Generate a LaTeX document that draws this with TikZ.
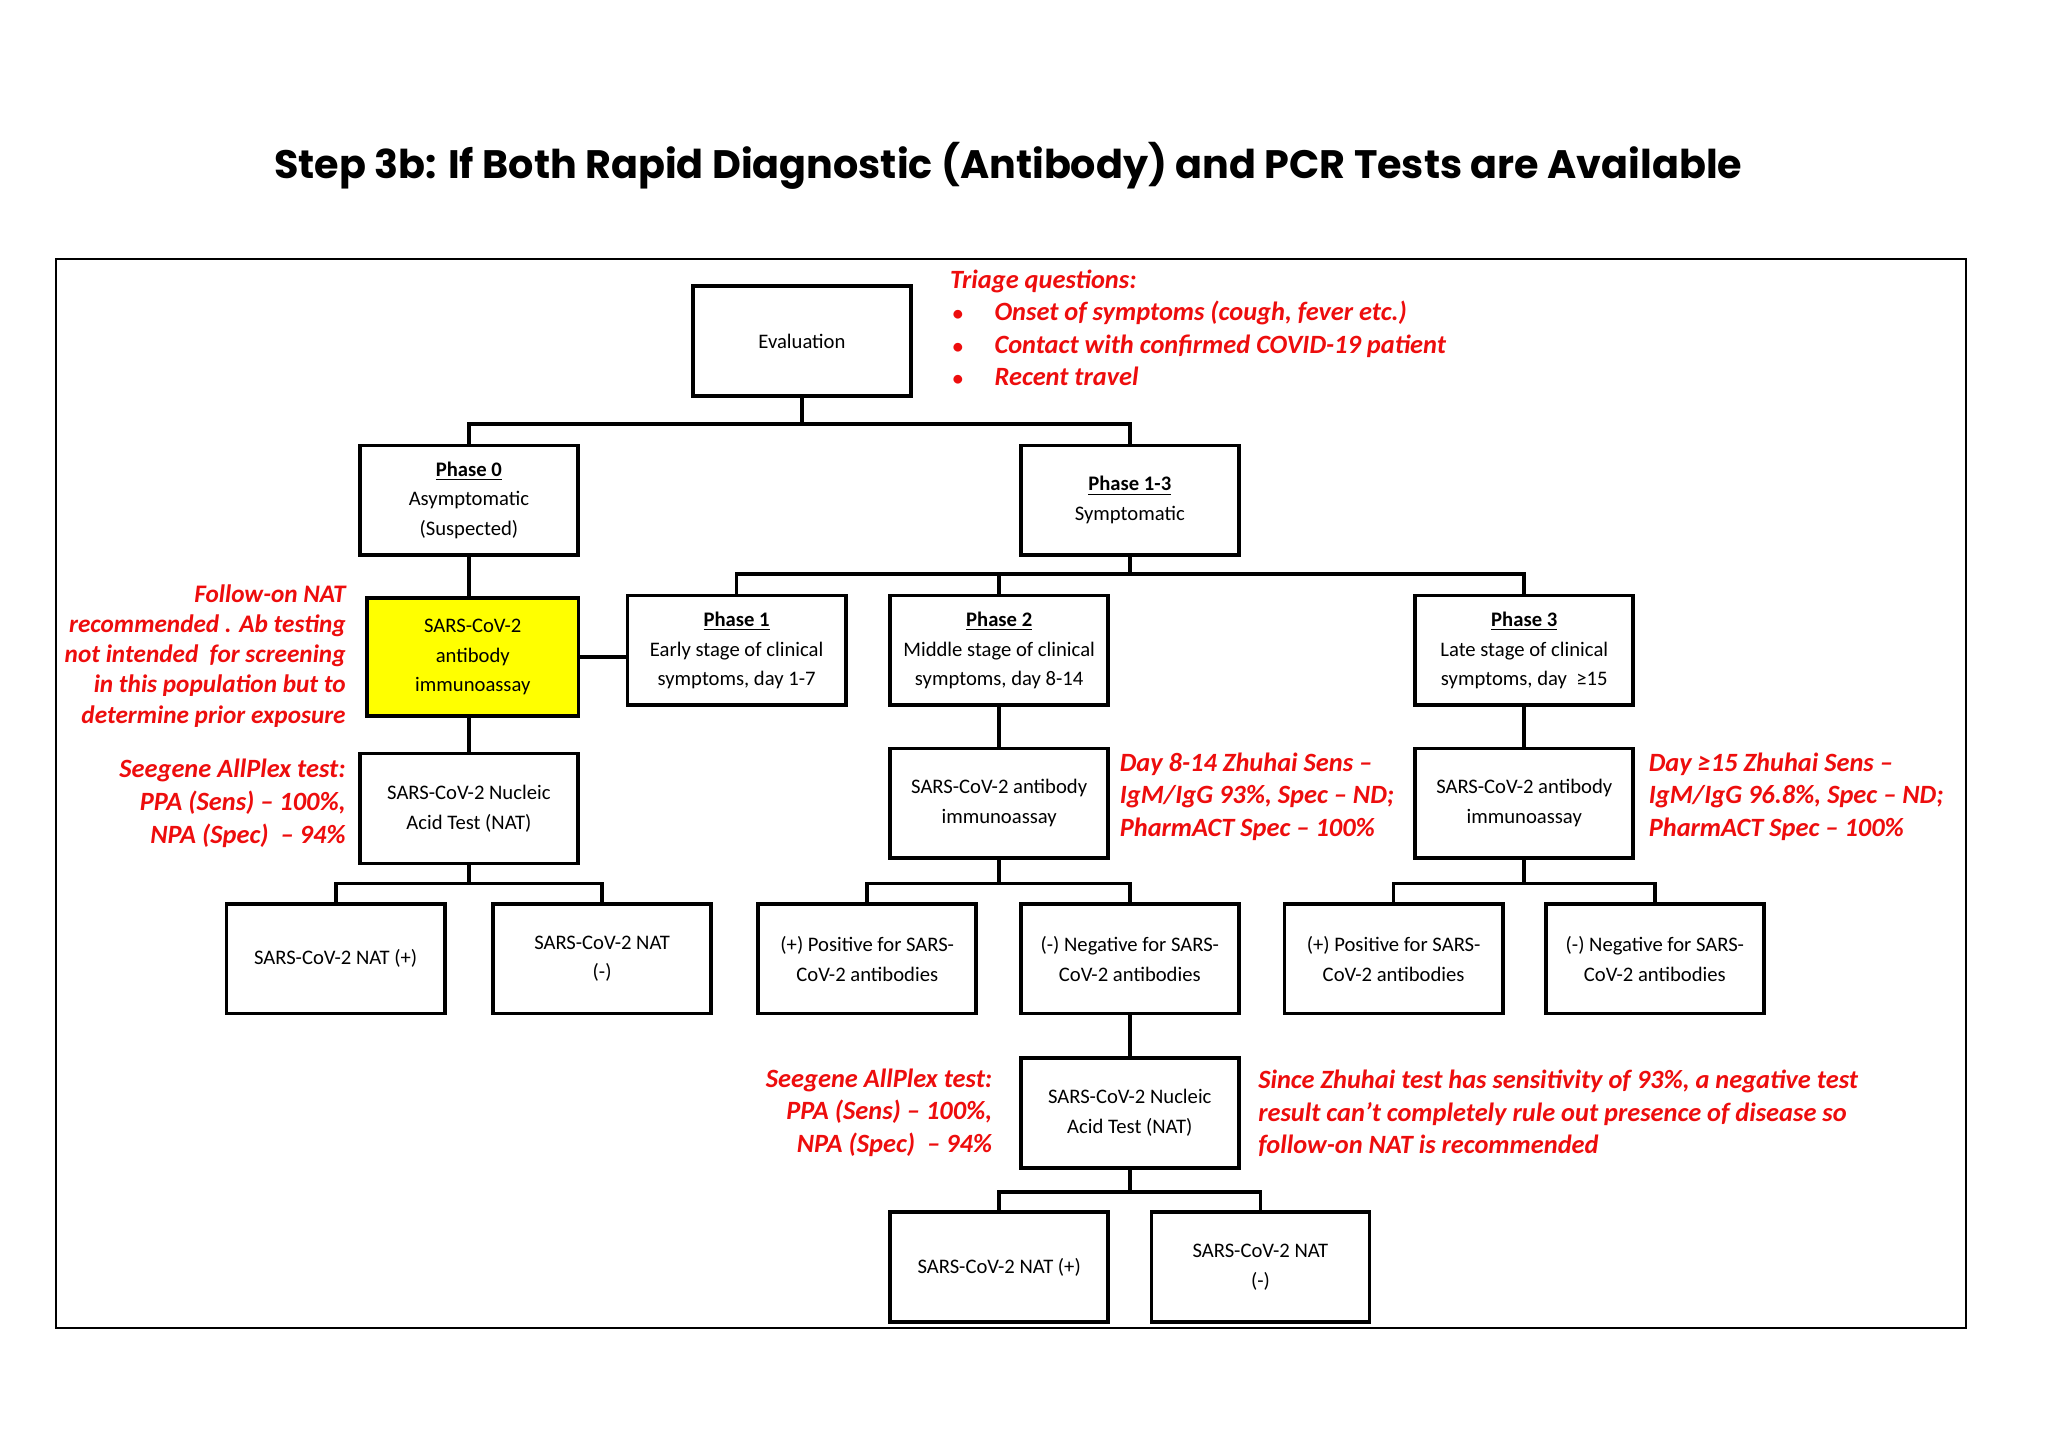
\documentclass[tikz,border=0pt]{standalone}
\usepackage{fontspec}
\setmainfont{Carlito}
\newfontfamily\titlefont{Poppins}
\usetikzlibrary{positioning}
\definecolor{notered}{rgb}{0.93,0.05,0.05}
\definecolor{abyellow}{rgb}{1,1,0}
\begin{document}
\begin{tikzpicture}[x=0.02cm,y=-0.02cm,
  box/.style={draw=black,line width=1.6pt,minimum width=3.34cm,minimum height=1.68cm,
    align=center,font=\fontsize{9}{13}\selectfont,inner sep=1pt},
  note/.style={text=notered,font=\fontsize{11.5}{14.2}\selectfont\bfseries\itshape,inner sep=0pt},
  link/.style={line width=1.6pt}]
\useasboundingbox (0,0) rectangle (1568,1110);
\draw[line width=0.8pt] (43,198) rectangle (1505,1017);
\node[font=\titlefont\fontsize{17.3}{22}\selectfont\bfseries] (title) at (772,127)
  {Step 3b: If Both Rapid Diagnostic (Antibody) and PCR Tests are Available};
% boxes
\node[box] (eval) at (614,261) {Evaluation};
\node[box] (ph0) at (359,383) {\underline{\textbf{Phase 0}}\\Asymptomatic\\(Suspected)};
\node[box] (ph13) at (865,383) {\underline{\textbf{Phase 1-3}}\\Symptomatic};
\node[box,fill=abyellow,minimum width=3.24cm,minimum height=1.8cm] (abtest) at (362,503) {SARS-CoV-2\\antibody\\immunoassay};
\node[box] (ph1) at (564,498) {\underline{\textbf{Phase 1}}\\Early stage of clinical\\symptoms, day 1-7};
\node[box] (ph2) at (765,498) {\underline{\textbf{Phase 2}}\\Middle stage of clinical\\symptoms, day 8-14};
\node[box] (ph3) at (1167,498) {\underline{\textbf{Phase 3}}\\Late stage of clinical\\symptoms, day \ ≥15};
\node[box] (natA) at (359,619) {SARS-CoV-2 Nucleic\\Acid Test (NAT)};
\node[box] (abB) at (765,615) {SARS-CoV-2 antibody\\immunoassay};
\node[box] (abC) at (1167,615) {SARS-CoV-2 antibody\\immunoassay};
\node[box] (natApos) at (257,734) {SARS-CoV-2 NAT (+)};
\node[box] (natAneg) at (461,734) {SARS-CoV-2 NAT\\(-)};
\node[box] (posB) at (664,734) {(+) Positive for SARS-\\CoV-2 antibodies};
\node[box] (negB) at (865,734) {(-) Negative for SARS-\\CoV-2 antibodies};
\node[box] (posC) at (1067,734) {(+) Positive for SARS-\\CoV-2 antibodies};
\node[box] (negC) at (1267,734) {(-) Negative for SARS-\\CoV-2 antibodies};
\node[box] (natB) at (865,852) {SARS-CoV-2 Nucleic\\Acid Test (NAT)};
\node[box] (natBpos) at (765,970) {SARS-CoV-2 NAT (+)};
\node[box] (natBneg) at (965,970) {SARS-CoV-2 NAT\\(-)};
% connectors
\draw[link] (eval.south) -- ++(0,20) -| (ph0.north);
\draw[link] (eval.south) -- ++(0,20) -| (ph13.north);
\draw[link] (ph13.south) -- ++(0,13) -| (ph1.north);
\draw[link] (ph13.south) -- ++(0,13) -| (ph2.north);
\draw[link] (ph13.south) -- ++(0,13) -| (ph3.north);
\draw[link] (ph0.south) -- (ph0.south |- abtest.north);
\draw[link] (natA.north |- abtest.south) -- (natA.north);
\draw[link] (abtest.east) -- (abtest.east -| ph1.west);
\draw[link] (natA.south) -- ++(0,14) -| (natApos.north);
\draw[link] (natA.south) -- ++(0,14) -| (natAneg.north);
\draw[link] (ph2) -- (abB);
\draw[link] (ph3) -- (abC);
\draw[link] (abB.south) -- ++(0,18) -| (posB.north);
\draw[link] (abB.south) -- ++(0,18) -| (negB.north);
\draw[link] (abC.south) -- ++(0,18) -| (posC.north);
\draw[link] (abC.south) -- ++(0,18) -| (negC.north);
\draw[link] (negB) -- (natB);
\draw[link] (natB.south) -- ++(0,17) -| (natBpos.north);
\draw[link] (natB.south) -- ++(0,17) -| (natBneg.north);
% notes
\node[note,anchor=north west,align=left] (triage) at (727,206)
  {Triage questions:\\
   \hspace*{0.1em}{\small\textbullet}\hspace{1.2em}Onset of symptoms (cough, fever etc.)\\
   \hspace*{0.1em}{\small\textbullet}\hspace{1.2em}Contact with confirmed COVID-19 patient\\
   \hspace*{0.1em}{\small\textbullet}\hspace{1.2em}Recent travel};
\node[note,anchor=north east,align=right,font=\fontsize{11}{13.2}\selectfont\bfseries\itshape] (followon) at (265,447)
  {Follow-on NAT\\recommended . Ab testing\\not intended\ \ for screening\\in this population but to\\determine prior exposure};
\node[note,anchor=north east,align=right] (seegeneA) at (265,581)
  {Seegene AllPlex test:\\PPA (Sens) -- 100\%,\\NPA (Spec)\ \ -- 94\%};
\node[note,anchor=north west,align=left] (zhuhaiB) at (857,576)
  {Day 8-14 Zhuhai Sens --\\IgM/IgG 93\%, Spec -- ND;\\PharmACT Spec -- 100\%};
\node[note,anchor=north west,align=left] (zhuhaiC) at (1262,576)
  {Day ≥15 Zhuhai Sens --\\IgM/IgG 96.8\%, Spec -- ND;\\PharmACT Spec -- 100\%};
\node[note,anchor=north east,align=right] (seegeneB) at (760,818)
  {Seegene AllPlex test:\\PPA (Sens) -- 100\%,\\NPA (Spec)\ \ -- 94\%};
\node[note,anchor=north west,align=left] (sincenote) at (963,819)
  {Since Zhuhai test has sensitivity of 93\%, a negative test\\result can't completely rule out presence of disease so\\follow-on NAT is recommended};
\end{tikzpicture}
\end{document}
